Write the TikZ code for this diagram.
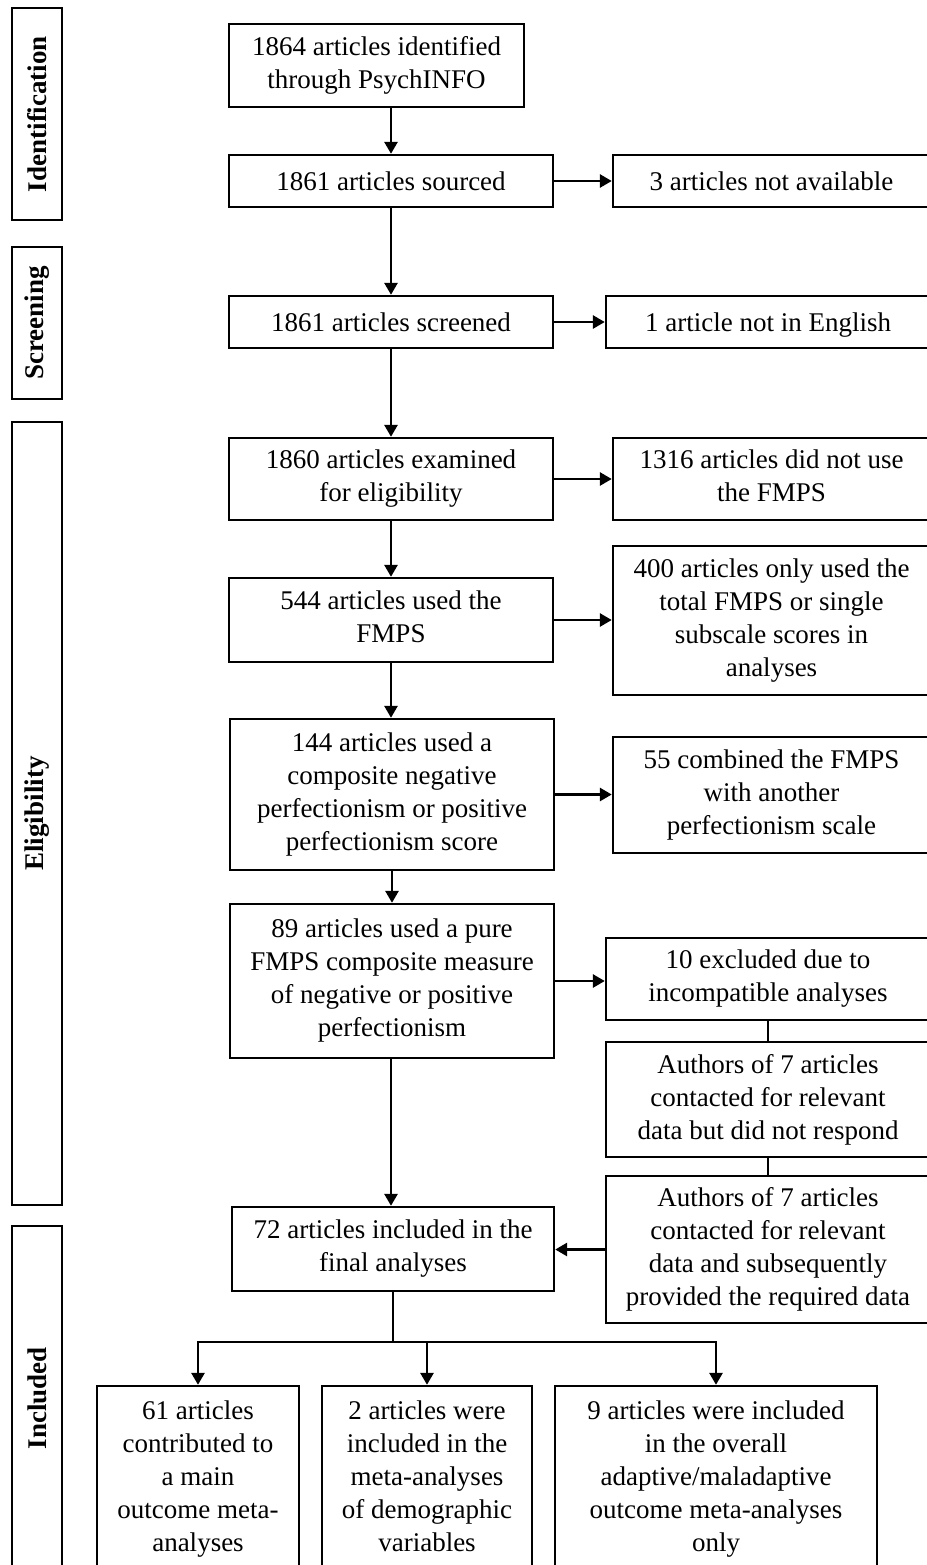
\documentclass[tikz,border=0pt]{standalone}
\usepackage{fontspec}
\setmainfont{Liberation Serif}
\usetikzlibrary{arrows.meta}
\newcommand\linestrut{\rule[-3pt]{0pt}{15pt}}
\begin{document}
\begin{tikzpicture}[x=0.5pt,y=-0.5pt,
  txt/.style={font=\fontsize{13.5}{16.5}\selectfont},
  pbox/.style={draw, line width=1.2pt, align=center, inner sep=0pt, txt,
    execute at begin node=\linestrut, execute at end node=\linestrut},
  side/.style={draw, line width=1.2pt, rotate=90, inner sep=0pt, minimum height=25pt,
    font=\fontsize{13.5}{16.5}\selectfont\bfseries},
  arr/.style={line width=1.4pt, -{Triangle[length=6pt,width=6.5pt]}},
  link/.style={line width=1.4pt}]

\useasboundingbox (0,0) rectangle (927,1565);
\clip (0,0) rectangle (927,1565);

% stage labels
\node[side, minimum width=106pt]   (sId)   at (37,114)    {Identification};
\node[side, minimum width=76pt]    (sScr)  at (37,323)    {Screening};
\node[side, minimum width=391.5pt] (sElig) at (37,813.5)  {Eligibility};
\node[side, minimum width=172pt]   (sInc)  at (37,1398)   {Included};

% main column
\node[pbox, minimum width=147.5pt, minimum height=41.5pt] (b1) at (376.5,65.5)
  {1864 articles identified\\through PsychINFO};
\node[pbox, minimum width=162pt, minimum height=26pt] (b2) at (391,181)
  {1861 articles sourced};
\node[pbox, minimum width=162pt, minimum height=26pt] (b3) at (391,322)
  {1861 articles screened};
\node[pbox, minimum width=162pt, minimum height=41pt] (b4) at (391,479)
  {1860 articles examined\\for eligibility};
\node[pbox, minimum width=162pt, minimum height=42pt] (b5) at (391,620)
  {544 articles used the\\FMPS};
\node[pbox, minimum width=162pt, minimum height=75.5pt] (b6) at (392,794.5)
  {144 articles used a\\composite negative\\perfectionism or positive\\perfectionism score};
\node[pbox, minimum width=162pt, minimum height=77pt] (b7) at (392,981)
  {89 articles used a pure\\FMPS composite measure\\of negative or positive\\perfectionism};
\node[pbox, minimum width=161pt, minimum height=42pt] (b8) at (393,1249)
  {72 articles included in the\\final analyses};

% exclusions
\node[pbox, minimum width=158.5pt, minimum height=26pt] (r2) at (771.5,181)
  {3 articles not available};
\node[pbox, minimum width=162pt, minimum height=26pt] (r3) at (768,322)
  {1 article not in English};
\node[pbox, minimum width=158.5pt, minimum height=41pt] (r4) at (771.5,479)
  {1316 articles did not use\\the FMPS};
\node[pbox, minimum width=158.5pt, minimum height=74.5pt] (r5) at (771.5,620.5)
  {400 articles only used the\\total FMPS or single\\subscale scores in\\analyses};
\node[pbox, minimum width=158.5pt, minimum height=58pt] (r6) at (771.5,795)
  {55 combined the FMPS\\with another\\perfectionism scale};
\node[pbox, minimum width=162pt, minimum height=41pt] (r7) at (768,979)
  {10 excluded due to\\incompatible analyses};
\node[pbox, minimum width=162pt, minimum height=57.5pt] (r8) at (768,1099.5)
  {Authors of 7 articles\\contacted for relevant\\data but did not respond};
\node[pbox, minimum width=162pt, minimum height=73.5pt] (r9) at (768,1249.5)
  {Authors of 7 articles\\contacted for relevant\\data and subsequently\\provided the required data};

% included outcomes
\node[pbox, minimum width=101pt, minimum height=93pt] (c1) at (198,1479)
  {61 articles\\contributed to\\a main\\outcome meta-\\analyses};
\node[pbox, minimum width=105pt, minimum height=93pt] (c2) at (427,1479)
  {2 articles were\\included in the\\meta-analyses\\of demographic\\variables};
\node[pbox, minimum width=161pt, minimum height=93pt] (c3) at (716,1479)
  {9 articles were included\\in the overall\\adaptive/maladaptive\\outcome meta-analyses\\only};

\coordinate (split) at (393,1342);

% flow
\draw[arr] (b2.north |- b1.south) -- (b2.north);
\draw[arr] (b2.east) -- (r2.west |- b2.east);
\draw[arr] (b2.south) -- (b3.north);
\draw[arr] (b3.east) -- (r3.west |- b3.east);
\draw[arr] (b3.south) -- (b4.north);
\draw[arr] (b4.east) -- (r4.west |- b4.east);
\draw[arr] (b4.south) -- (b5.north);
\draw[arr] (b5.east) -- (r5.west |- b5.east);
\draw[arr] (b5.south) -- (b5.south |- b6.north);
\draw[arr] (b6.east) -- (r6.west |- b6.east);
\draw[arr] (b6.south) -- (b7.north);
\draw[arr] (b7.east) -- (r7.west |- b7.east);
\draw[link] (r7.south) -- (r8.north);
\draw[link] (r8.south) -- (r9.north);
\draw[arr] (r9.west) -- (b8.east |- r9.west);
\draw[arr] (b5.south |- b7.south) -- (b5.south |- b8.north);
\draw[link] (b8.south) -- (split);
\draw[arr] (split) -| (c1.north);
\draw[arr] (split) -| (c2.north);
\draw[arr] (split) -| (c3.north);
\end{tikzpicture}
\end{document}
